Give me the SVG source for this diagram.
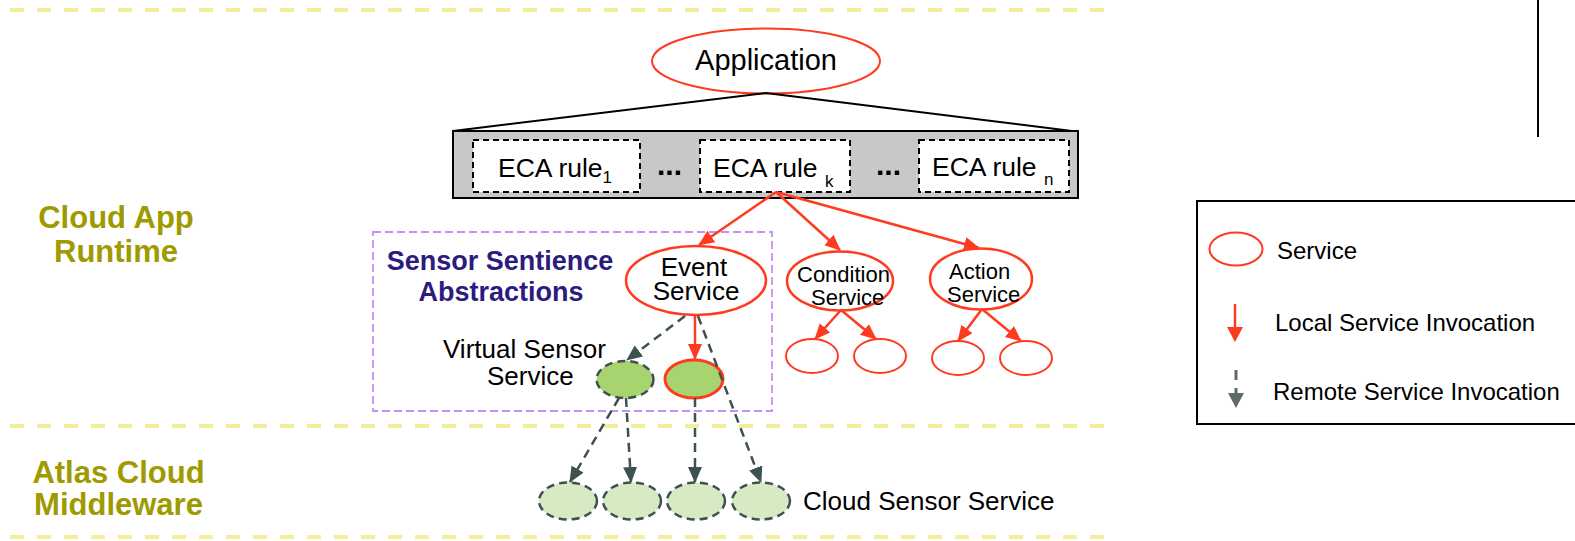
<svg xmlns="http://www.w3.org/2000/svg" width="1575" height="541" viewBox="0 0 1575 541">
  <style>
    text { font-family: "Liberation Sans", Arial, Helvetica, sans-serif; fill: #000; }
    .layer { font-weight: bold; font-size: 31px; fill: #9e9a00; text-anchor: middle; }
    .group { font-weight: bold; font-size: 27px; fill: #2c1c80; text-anchor: middle; }
    .svc { fill: #fff; stroke: #ff3b1f; stroke-width: 2.5; }
    .small { fill: #fff; stroke: #ff3b1f; stroke-width: 2; }
    .eca { fill: #fff; stroke: #000; stroke-width: 2; stroke-dasharray: 6 4; }
    .local { stroke: #ff3b1f; stroke-width: 2.5; fill: none; marker-end: url(#redHead); }
    .remote { stroke: #3d5151; stroke-width: 2.5; fill: none; stroke-dasharray: 9 6; marker-end: url(#slateHead); }
    .cloud { fill: #d6eac3; stroke: #3d5151; stroke-width: 2.5; stroke-dasharray: 8 5; }
    .sep-y { stroke: #f4ee9a; stroke-width: 4; stroke-dasharray: 14 13; fill: none; }
    .sep-g { stroke: #a4a4a4; stroke-width: 4.5; stroke-dasharray: 14 13; fill: none; filter: url(#soft); }
  </style>
  <defs>
    <marker id="redHead" markerUnits="userSpaceOnUse" markerWidth="16" markerHeight="14" refX="15" refY="7" orient="auto">
      <path d="M0,0 L16,7 L0,14 z" fill="#ff3b1f"/>
    </marker>
    <marker id="slateHead" markerUnits="userSpaceOnUse" markerWidth="16" markerHeight="14" refX="15" refY="7" orient="auto">
      <path d="M0,0 L16,7 L0,14 z" fill="#3d5151"/>
    </marker>
    <filter id="soft" x="-5%" y="-200%" width="110%" height="500%">
      <feGaussianBlur stdDeviation="1.2"/>
    </filter>
  </defs>

  <rect x="0" y="0" width="1575" height="541" fill="#fff"/>

  <!-- layer separators: pale dashes with a soft grey shadow -->
  <g id="separators">
    <line class="sep-g" x1="10" y1="15" x2="1115" y2="15"/>
    <line class="sep-y" x1="10" y1="10" x2="1115" y2="10"/>
    <line class="sep-g" x1="10" y1="431" x2="1115" y2="431"/>
    <line class="sep-y" x1="10" y1="426" x2="1115" y2="426"/>
    <line class="sep-g" x1="10" y1="541" x2="1115" y2="541"/>
    <line class="sep-y" x1="10" y1="537" x2="1115" y2="537"/>
  </g>

  <!-- layer labels -->
  <g id="layer-runtime">
    <text class="layer" x="116" y="228">Cloud App</text>
    <text class="layer" x="116" y="262">Runtime</text>
  </g>
  <g id="layer-middleware">
    <text class="layer" x="118.5" y="483">Atlas Cloud</text>
    <text class="layer" x="118.5" y="515">Middleware</text>
  </g>

  <!-- sensor sentience group -->
  <g id="sensor-sentience">
    <rect x="373" y="232" width="399" height="179" fill="none" stroke="#c590f5" stroke-width="1.8" stroke-dasharray="8 4"/>
    <text class="group" x="500" y="270">Sensor Sentience</text>
    <text class="group" x="501" y="301">Abstractions</text>
  </g>

  <!-- application -->
  <g id="application">
    <ellipse cx="766" cy="61" rx="114" ry="32.5" fill="#fff" stroke="#ff3b1f" stroke-width="2"/>
    <text x="766" y="70" font-size="29" text-anchor="middle">Application</text>
  </g>

  <!-- rule set -->
  <g id="eca-rules">
    <line x1="766" y1="93" x2="453" y2="131" stroke="#000" stroke-width="2"/>
    <line x1="766" y1="93" x2="1072" y2="131" stroke="#000" stroke-width="2"/>
    <rect x="453" y="131" width="625" height="67" fill="#c8c8c8" stroke="#000" stroke-width="2"/>
  </g>
  <g id="eca-rule-1">
    <rect class="eca" x="473" y="140" width="167" height="52"/>
    <text x="498" y="177" font-size="26.5">ECA rule<tspan font-size="17" dy="6">1</tspan></text>
  </g>
  <g id="eca-rule-k">
    <rect class="eca" x="700" y="140" width="150" height="52"/>
    <text x="713" y="177" font-size="26.5">ECA rule <tspan font-size="17" dy="10">k</tspan></text>
  </g>
  <g id="eca-rule-n">
    <rect class="eca" x="919" y="140" width="150" height="52"/>
    <text x="932" y="176" font-size="26.5">ECA rule <tspan font-size="17" dy="9">n</tspan></text>
  </g>
  <g id="ellipsis">
    <text x="657" y="175" font-size="30" font-weight="bold">...</text>
    <text x="876" y="175" font-size="30" font-weight="bold">...</text>
  </g>

  <!-- services -->
  <g id="event-service">
    <ellipse class="svc" cx="696" cy="280.5" rx="70" ry="34.5" stroke-width="3"/>
    <text x="694" y="276" font-size="26" text-anchor="middle">Event</text>
    <text x="696" y="300" font-size="26" text-anchor="middle">Service</text>
  </g>
  <g id="condition-service">
    <ellipse class="svc" cx="840" cy="281" rx="53" ry="29.5"/>
    <text x="797" y="282" font-size="22">Condition</text>
    <text x="811" y="305" font-size="22">Service</text>
  </g>
  <g id="action-service">
    <ellipse class="svc" cx="981" cy="279" rx="51" ry="30.5"/>
    <text x="949" y="279" font-size="22">Action</text>
    <text x="947" y="302" font-size="22">Service</text>
  </g>
  <g id="condition-sub-1"><ellipse class="small" cx="812" cy="356" rx="26" ry="17"/></g>
  <g id="condition-sub-2"><ellipse class="small" cx="880" cy="356" rx="26" ry="17"/></g>
  <g id="action-sub-1"><ellipse class="small" cx="958" cy="358" rx="26" ry="17"/></g>
  <g id="action-sub-2"><ellipse class="small" cx="1026" cy="358" rx="26" ry="17"/></g>

  <!-- virtual sensor services -->
  <g id="virtual-sensor-service">
    <ellipse cx="625" cy="379.5" rx="28.5" ry="18.5" fill="#a8d46f" stroke="#3d5151" stroke-width="2.5" stroke-dasharray="8 5"/>
    <text x="443" y="358" font-size="26">Virtual Sensor</text>
    <text x="487" y="385" font-size="26">Service</text>
  </g>
  <g id="local-sensor-service">
    <ellipse cx="694" cy="379" rx="29" ry="19" fill="#a8d46f" stroke="#ff3b1f" stroke-width="3"/>
  </g>

  <!-- cloud sensor services -->
  <g id="cloud-sensor-1"><ellipse class="cloud" cx="568" cy="501" rx="29" ry="18.5"/></g>
  <g id="cloud-sensor-2"><ellipse class="cloud" cx="632" cy="501" rx="29" ry="18.5"/></g>
  <g id="cloud-sensor-3"><ellipse class="cloud" cx="696" cy="501" rx="29" ry="18.5"/></g>
  <g id="cloud-sensor-4">
    <ellipse class="cloud" cx="761" cy="501" rx="29" ry="18.5"/>
    <text x="803" y="510" font-size="26">Cloud Sensor Service</text>
  </g>

  <!-- invocations -->
  <g id="connectors">
    <line class="local" x1="776" y1="192" x2="699" y2="245"/>
    <line class="local" x1="776" y1="192" x2="840" y2="250"/>
    <line class="local" x1="776" y1="192" x2="979" y2="248"/>
    <line class="local" x1="841" y1="310" x2="815" y2="339"/>
    <line class="local" x1="841" y1="310" x2="876" y2="339"/>
    <line class="local" x1="982" y1="309" x2="958" y2="341"/>
    <line class="local" x1="982" y1="309" x2="1021" y2="341"/>
    <line class="local" x1="695" y1="315" x2="695" y2="359"/>

    <line class="remote" x1="685" y1="316" x2="627" y2="360"/>
    <line class="remote" x1="698" y1="316" x2="761" y2="482"/>
    <line class="remote" x1="619" y1="398" x2="570" y2="482"/>
    <line class="remote" x1="626" y1="398" x2="631" y2="482"/>
    <line class="remote" x1="695" y1="398" x2="695" y2="482"/>
  </g>

  <!-- frame line at the right -->
  <line x1="1538" y1="0" x2="1538" y2="137" stroke="#000" stroke-width="2"/>

  <!-- legend -->
  <g id="legend">
    <rect x="1197" y="201" width="400" height="223" fill="#fff" stroke="#000" stroke-width="2"/>
    <ellipse cx="1236" cy="249" rx="26.5" ry="16.5" fill="#fff" stroke="#ff3b1f" stroke-width="2"/>
    <text x="1277" y="259" font-size="24">Service</text>
    <line x1="1235" y1="304" x2="1235" y2="328" stroke="#ff3b1f" stroke-width="2.5"/>
    <path d="M1227,327 L1243,327 L1235,342 z" fill="#ff3b1f"/>
    <text x="1275" y="331" font-size="24">Local Service Invocation</text>
    <line x1="1236" y1="370" x2="1236" y2="380" stroke="#5d6b6b" stroke-width="3"/>
    <line x1="1236" y1="388" x2="1236" y2="394" stroke="#5d6b6b" stroke-width="3"/>
    <path d="M1228,393 L1244,393 L1236,408 z" fill="#5d6b6b"/>
    <text x="1273" y="400" font-size="24">Remote Service Invocation</text>
  </g>
</svg>
